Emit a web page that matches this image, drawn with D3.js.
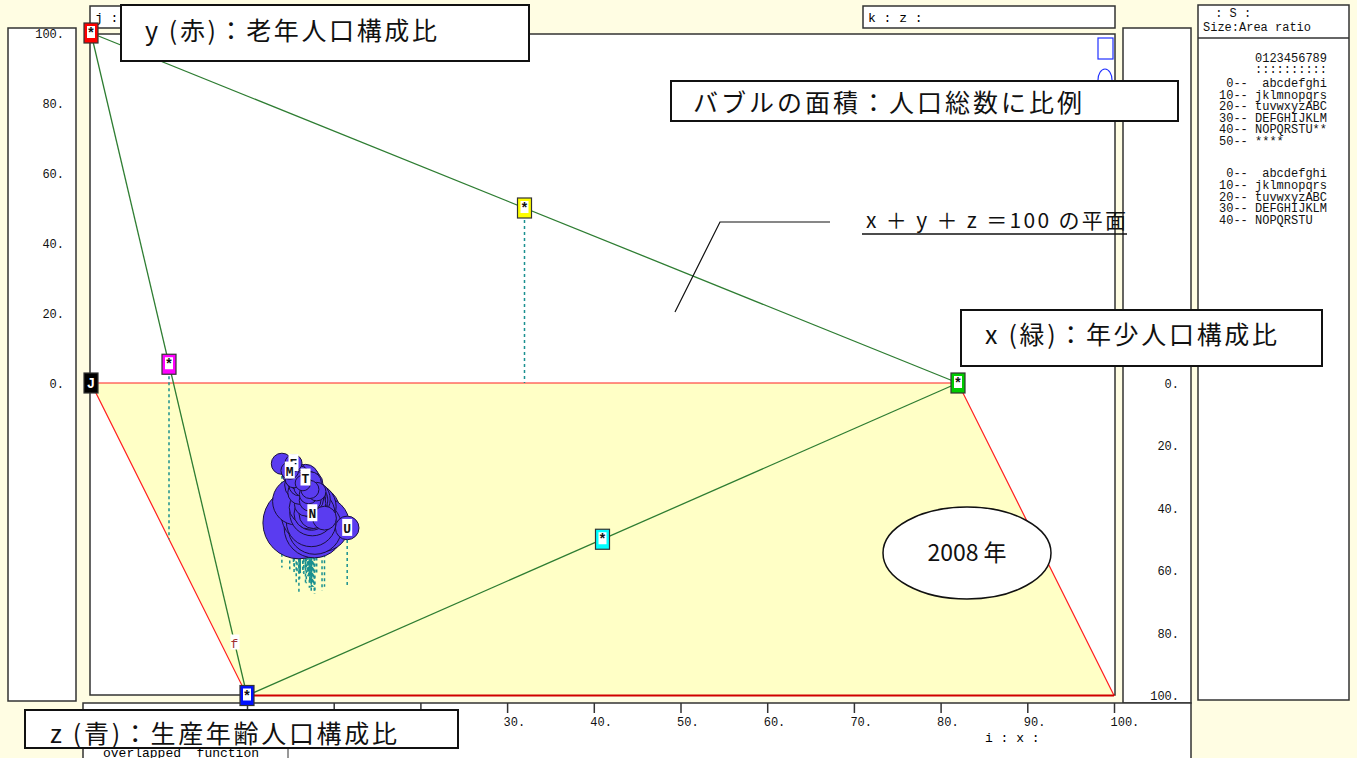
<!DOCTYPE html>
<html>
<head>
<meta charset="utf-8">
<script src="https://cdn.jsdelivr.net/npm/d3@7"></script>
<style>
  body { margin: 0; background: #fffde3; }
  svg { display: block; }
  .mono { font-family: "Liberation Mono", "DejaVu Sans Mono", monospace; }
  .jp { font-family: "Noto Sans CJK JP", "Noto Sans", sans-serif; }
</style>
</head>
<body>
<div class="chart"></div>
<script>
// prefecture codes (legend order 1..47), 2008 composition (%), population (millions)
const prefCodes = "abcdefghijklmnopqrstuvwxyzABCDEFGHIJKLMNOPQRSTU".split("");
const youngPct = [12.1, 12.8, 12.9, 13.4, 11.4, 13.2, 14.0, 13.7, 13.9, 14.0,
  13.7, 13.4, 11.8, 13.6, 13.1, 13.0, 13.9, 14.2, 13.9, 13.9,
  14.2, 14.0, 14.7, 13.9, 15.2, 13.1, 13.6, 14.0, 13.3, 13.1,
  13.5, 12.9, 13.9, 14.0, 12.7, 12.5, 13.5, 13.2, 12.2, 13.8,
  15.0, 14.1, 14.3, 13.5, 14.5, 14.0, 17.8];
const oldPct = [23.6, 24.6, 26.7, 21.1, 29.6, 26.8, 24.4, 21.1, 20.8, 22.4,
  18.9, 19.9, 20.5, 18.9, 25.6, 25.6, 22.9, 24.4, 23.8, 25.9,
  23.4, 23.0, 18.9, 23.1, 19.6, 22.2, 21.0, 21.9, 22.6, 26.3,
  25.7, 29.0, 24.3, 22.9, 27.5, 26.8, 25.1, 26.0, 28.2, 21.0,
  23.7, 25.4, 25.2, 25.8, 25.3, 26.3, 16.9];
const popMillions = [5.53, 1.39, 1.35, 2.34, 1.11, 1.18, 2.05, 2.97, 2.01, 2.01,
  7.12, 6.14, 12.84, 8.94, 2.40, 1.10, 1.17, 0.81, 0.87, 2.17,
  2.09, 3.79, 7.40, 1.87, 1.40, 2.63, 8.81, 5.59, 1.41, 1.01,
  0.59, 0.72, 1.95, 2.87, 1.46, 0.79, 1.00, 1.44, 0.77, 5.05,
  0.85, 1.44, 1.81, 1.20, 1.14, 1.71, 1.38];
const labeledCodes = ["F", "M", "T", "N", "U"];

// plane vertices and edge midpoints [x, y, z]
const vertexPts = [[0, 100, 0], [100, 0, 0], [0, 0, 100], [0, 0, 0]];
const vertexLabels = ["*", "*", "*", "J"];
const midPts = [[50, 50, 0], [0, 50, 50], [50, 0, 50]];
const edgeMark = { code: "f", p: [0, 8, 92] };

// tick values
const yTicks = [0, 20, 40, 60, 80, 100];
const xTicks = [0, 10, 20, 30, 40, 50, 60, 70, 80, 90, 100];
const zTicks = [0, 20, 40, 60, 80, 100];

// size legend rows
const legendRows1 = [[0, " abcdefghi"], [10, "jklmnopqrs"], [20, "tuvwxyzABC"], [30, "DEFGHIJKLM"], [40, "NOPQRSTU**"], [50, "****"]];
const legendRows2 = [[0, " abcdefghi"], [10, "jklmnopqrs"], [20, "tuvwxyzABC"], [30, "DEFGHIJKLM"], [40, "NOPQRSTU"]];

const W = 1357, H = 758;
const nb = s => s.replace(/ /g, "\u00a0");
const svg = d3.select(".chart").append("svg").attr("width", W).attr("height", H);
svg.append("rect").attr("width", W).attr("height", H).attr("fill", "#fffde3");

// oblique projection scales
const x0 = 91;
const xS = d3.scaleLinear().domain([0, 100]).range([0, 867]);
const yS = d3.scaleLinear().domain([0, 100]).range([383, 33]);
const zDX = d3.scaleLinear().domain([0, 100]).range([0, 156]);
const zDY = d3.scaleLinear().domain([0, 100]).range([0, 312.5]);
const proj = p => [x0 + xS(p[0]) + zDX(p[2]), yS(p[1]) + zDY(p[2])];

// panels
function panel(x, y, w, h) {
  svg.append("rect").attr("x", x).attr("y", y).attr("width", w).attr("height", h)
    .attr("fill", "#fff").attr("stroke", "#333").attr("stroke-width", 1.5);
}
panel(8, 28, 68, 673);
panel(90, 34, 1025, 661);
panel(90, 6, 40, 22);
panel(863, 6, 252, 22);
panel(1123, 28, 68, 675);
panel(1198, 5, 151, 695);
panel(83, 703, 1108, 70);
svg.append("line").attr("x1", 1198).attr("x2", 1349).attr("y1", 38).attr("y2", 38).attr("stroke", "#333").attr("stroke-width", 1.5);

svg.append("text").attr("class", "mono").attr("x", 95).attr("y", 22).attr("font-size", 13).text("j :");
svg.append("text").attr("class", "mono").attr("x", 868).attr("y", 22).attr("font-size", 13).text("k : z :");

// symbol legend at top right of plot
svg.append("rect").attr("x", 1098).attr("y", 38).attr("width", 15).attr("height", 21)
  .attr("fill", "none").attr("stroke", "#2030ff").attr("stroke-width", 1.2);
svg.append("ellipse").attr("cx", 1105).attr("cy", 80).attr("rx", 7).attr("ry", 11)
  .attr("fill", "none").attr("stroke", "#2030ff").attr("stroke-width", 1.2);

// axes
const yAxis = svg.append("g").attr("class", "mono").attr("transform", "translate(64,0)")
  .call(d3.axisLeft(yS).tickValues(yTicks).tickSize(0).tickPadding(0).tickFormat(d => d + "."));
const zAxisScale = d3.scaleLinear().domain([0, 100]).range([383, 695.5]);
const zAxis = svg.append("g").attr("class", "mono").attr("transform", "translate(1179,0)")
  .call(d3.axisLeft(zAxisScale).tickValues(zTicks).tickSize(0).tickPadding(0).tickFormat(d => d + "."));
const xBottom = d3.scaleLinear().domain([0, 100]).range([proj([0, 0, 100])[0], proj([100, 0, 100])[0]]);
const xAxis = svg.append("g").attr("class", "mono").attr("transform", "translate(0,703)")
  .call(d3.axisBottom(xBottom).tickValues(xTicks).tickSize(10).tickPadding(4).tickFormat(d => d + "."));
[yAxis, zAxis, xAxis].forEach(g => {
  g.select(".domain").remove();
  g.selectAll("text").attr("font-size", 12).attr("fill", "#111")
    .attr("font-family", "Liberation Mono, monospace");
});
yAxis.selectAll("text").attr("dy", "0.35em");
zAxis.selectAll("text").attr("dy", "0.35em");
xAxis.selectAll("line").attr("stroke", "#333").attr("stroke-width", 1.5);
xAxis.selectAll("text").attr("text-anchor", "start").attr("dx", -4);
svg.append("text").attr("class", "mono").attr("x", 985).attr("y", 742).attr("font-size", 13).text("i : x :");
svg.append("text").attr("class", "mono").attr("x", 103).attr("y", 757).attr("font-size", 13)
  .text(nb("overlapped  function"));
svg.append("line").attr("x1", 288).attr("x2", 288).attr("y1", 748).attr("y2", 758).attr("stroke", "#333");

// floor (y = 0) parallelogram
const floorPts = [[0, 0, 0], [100, 0, 0], [100, 0, 100], [0, 0, 100]].map(proj);
svg.append("polygon").attr("points", floorPts.map(p => p.join(",")).join(" "))
  .attr("fill", "#ffffc6").attr("stroke", "#ff2020").attr("stroke-width", 1.2);
svg.append("line").attr("x1", floorPts[3][0]).attr("x2", floorPts[2][0])
  .attr("y1", floorPts[2][1]).attr("y2", floorPts[2][1])
  .attr("stroke", "#d00000").attr("stroke-width", 2);

// plane triangle edges
const tri = vertexPts.slice(0, 3).map(proj);
[[0, 1], [0, 2], [2, 1]].forEach(([a, b]) => {
  svg.append("line").attr("x1", tri[a][0]).attr("y1", tri[a][1]).attr("x2", tri[b][0]).attr("y2", tri[b][1])
    .attr("stroke", "#2e7d32").attr("stroke-width", 1.3);
});

// dashed drops to floor
function drop(p) {
  const a = proj(p), b = proj([p[0], 0, p[2]]);
  svg.append("line").attr("x1", a[0]).attr("y1", a[1]).attr("x2", b[0]).attr("y2", b[1])
    .attr("stroke", "#1a9090").attr("stroke-width", 1.5).attr("stroke-dasharray", "3,3");
}
midPts.forEach(p => { if (p[1] > 0) drop(p); });

// bubbles
const rScale = d3.scaleSqrt().domain([0, d3.max(popMillions)]).range([0, 36]);
const prefs = prefCodes.map((c, i) => ({
  code: c, p: [youngPct[i], oldPct[i], 100 - youngPct[i] - oldPct[i]], pop: popMillions[i]
}));
prefs.forEach(d => drop(d.p));
const order = prefs.slice().sort((a, b) => b.pop - a.pop);
svg.append("g").selectAll("circle").data(order).join("circle")
  .attr("cx", d => proj(d.p)[0]).attr("cy", d => proj(d.p)[1])
  .attr("r", d => rScale(d.pop))
  .attr("fill", "#5a3cf0").attr("stroke", "#1a1040").attr("stroke-width", 1);
const labs = svg.append("g").selectAll("g").data(order.filter(d => labeledCodes.includes(d.code)).reverse()).join("g")
  .attr("transform", d => `translate(${proj(d.p)[0]},${proj(d.p)[1]})`);
labs.append("rect").attr("x", -5).attr("y", -9).attr("width", 10).attr("height", 17).attr("fill", "#fff");
labs.append("text").attr("class", "mono").attr("text-anchor", "middle").attr("y", 5)
  .attr("font-size", 13).attr("font-weight", "bold").attr("fill", "#111").text(d => d.code);

// edge mark
const ef = proj(edgeMark.p);
svg.append("rect").attr("x", ef[0] - 4).attr("y", ef[1] - 8).attr("width", 9).attr("height", 15).attr("fill", "#fff");
svg.append("text").attr("class", "mono").attr("x", ef[0]).attr("y", ef[1] + 5).attr("text-anchor", "middle")
  .attr("font-size", 13).attr("fill", "#a03030").text(edgeMark.code);

// vertex and midpoint markers
const vertexColors = ["#ff0000", "#00cc00", "#0010ff", "#000"];
const midColors = ["#ffff00", "#ff00ff", "#00ffff"];
function marker(p, color, label) {
  const [cx, cy] = proj(p);
  const g = svg.append("g").attr("transform", `translate(${cx},${cy})`);
  g.append("rect").attr("x", -7).attr("y", -10).attr("width", 14).attr("height", 20)
    .attr("fill", color).attr("stroke", "#333").attr("stroke-width", 1.2);
  if (label !== "J") g.append("rect").attr("x", -4).attr("y", -7).attr("width", 8).attr("height", 12).attr("fill", "#fff");
  g.append("text").attr("class", "mono").attr("text-anchor", "middle").attr("y", 5)
    .attr("font-size", 14).attr("font-weight", "bold")
    .attr("fill", label === "J" ? "#fff" : "#111").text(label);
}
midPts.forEach((p, i) => marker(p, midColors[i], "*"));
vertexPts.forEach((p, i) => marker(p, vertexColors[i], vertexLabels[i]));

// size legend
const lg = svg.append("g").attr("class", "mono").attr("font-size", 12).attr("fill", "#111");
lg.append("text").attr("x", 1208).attr("y", 17).text(nb(" : S :"));
lg.append("text").attr("x", 1203).attr("y", 31).text("Size:Area ratio");
lg.append("text").attr("x", 1255).attr("y", 62).text("0123456789");
lg.append("text").attr("x", 1255).attr("y", 73).text("::::::::::");
legendRows1.forEach((r, i) => lg.append("text").attr("x", 1219).attr("y", 87 + i * 11.6)
  .text(nb(String(r[0]).padStart(2) + "-- " + r[1])));
legendRows2.forEach((r, i) => lg.append("text").attr("x", 1219).attr("y", 177 + i * 11.8)
  .text(nb(String(r[0]).padStart(2) + "-- " + r[1])));

// annotations
function labelBox(x, y, w, h, tx, ty, txt, len) {
  svg.append("rect").attr("x", x).attr("y", y).attr("width", w).attr("height", h)
    .attr("fill", "#fff").attr("stroke", "#111").attr("stroke-width", 2);
  svg.append("text").attr("class", "jp").attr("x", tx).attr("y", ty).attr("font-size", 25)
    .attr("fill", "#111").attr("textLength", len).attr("lengthAdjust", "spacing").text(txt);
}
labelBox(121, 5, 408, 56, 145, 40, "y (赤)：老年人口構成比", 292);
labelBox(671, 81, 507, 40, 693, 112, "バブルの面積：人口総数に比例", 389);
labelBox(961, 310, 361, 56, 985, 344, "x (緑)：年少人口構成比", 292);
labelBox(25, 710, 433, 38, 50, 743, "z (青)：生産年齢人口構成比", 347);

svg.append("polyline").attr("points", "675,312 720,222 830,222")
  .attr("fill", "none").attr("stroke", "#111").attr("stroke-width", 1.2);
svg.append("text").attr("class", "jp").attr("x", 866).attr("y", 228).attr("font-size", 21)
  .attr("fill", "#111").attr("textLength", 260).attr("lengthAdjust", "spacing").text("x ＋ y ＋ z ＝100 の平面");
svg.append("line").attr("x1", 862).attr("x2", 1127).attr("y1", 234).attr("y2", 234).attr("stroke", "#111").attr("stroke-width", 1.5);

svg.append("ellipse").attr("cx", 967).attr("cy", 553).attr("rx", 84).attr("ry", 46)
  .attr("fill", "#fff").attr("stroke", "#111").attr("stroke-width", 1.5);
svg.append("text").attr("class", "jp").attr("x", 967).attr("y", 561).attr("text-anchor", "middle")
  .attr("font-size", 23).attr("fill", "#111").text("2008 年");
</script>
</body>
</html>
